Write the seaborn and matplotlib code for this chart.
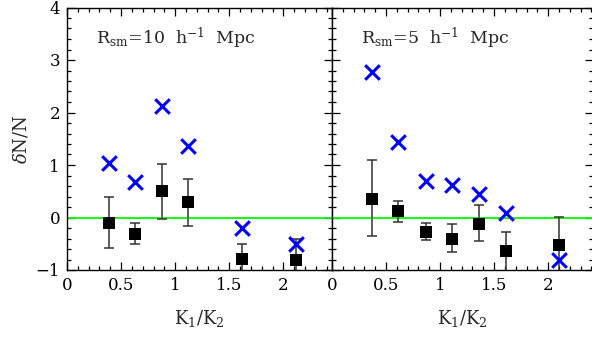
import matplotlib
matplotlib.use("Agg")
import matplotlib.pyplot as plt
import seaborn as sns
import pandas as pd
import numpy as np
from matplotlib.ticker import MultipleLocator, FuncFormatter

# ---- data ----
x_left = [0.39, 0.63, 0.88, 1.12, 1.62, 2.12]
cross_left = [1.04, 0.67, 2.12, 1.36, -0.20, -0.50]
sq_left = [-0.10, -0.31, 0.50, 0.30, -0.79, -0.81]
sq_left_hi = [0.39, -0.10, 1.01, 0.74, -0.50, -0.40]
sq_left_lo = [-0.58, -0.50, -0.02, -0.17, -1.08, -1.22]

x_right = [0.37, 0.61, 0.87, 1.11, 1.36, 1.61, 2.10]
cross_right = [2.77, 1.43, 0.69, 0.61, 0.45, 0.09, -0.81]
sq_right = [0.36, 0.12, -0.27, -0.40, -0.12, -0.64, -0.52]
sq_right_hi = [1.09, 0.31, -0.10, -0.13, 0.24, -0.27, 0.01]
sq_right_lo = [-0.36, -0.08, -0.42, -0.66, -0.45, -1.01, -1.05]

panel_labels = [r"R$_{\rm sm}$=10  h$^{-1}$  Mpc", r"R$_{\rm sm}$=5  h$^{-1}$  Mpc"]
xlabel = r"K$_1$/K$_2$"
ylabel = r"$\delta$N/N"

sns.set_theme(style="ticks")
plt.rcParams["font.family"] = ["DejaVu Serif"]
plt.rcParams["mathtext.fontset"] = "dejavuserif"
plt.rcParams["axes.unicode_minus"] = True

fig = plt.figure(figsize=(5.92, 3.39), dpi=100)
W, H = 592, 339
ax1 = fig.add_axes([67 / W, 1 - 270 / H, 265 / W, 262.5 / H])
ax2 = fig.add_axes([332 / W, 1 - 270 / H, 261 / W, 262.5 / H])

panels = [
    (ax1, x_left, cross_left, sq_left, sq_left_hi, sq_left_lo, panel_labels[0], 2.45),
    (ax2, x_right, cross_right, sq_right, sq_right_hi, sq_right_lo, panel_labels[1], 2.415),
]

fmt = FuncFormatter(lambda v, p: ("%g" % v).replace("-", "\u2212"))

for ax, xs, cr, sq, hi, lo, lab, xmax in panels:
    df = pd.DataFrame({"x": xs, "cross": cr, "sq": sq, "hi": hi, "lo": lo})
    ax.axhline(0, color="#00ff00", lw=1.3, zorder=1)
    ax.errorbar(df["x"], df["sq"], yerr=[df["sq"] - df["lo"], df["hi"] - df["sq"]],
                fmt="none", ecolor="#333333", elinewidth=1.1, capsize=3.5,
                capthick=1.1, zorder=2)
    sns.scatterplot(data=df, x="x", y="sq", ax=ax, marker="s", s=72,
                    color="black", edgecolor="black", linewidth=0, zorder=3)
    sns.scatterplot(data=df, x="x", y="cross", ax=ax, marker="x", s=110,
                    color="#0000ff", linewidth=2.2, zorder=4)
    ax.set_xlim(0, xmax)
    ax.set_ylim(-1, 4)
    ax.xaxis.set_major_locator(MultipleLocator(0.5))
    ax.xaxis.set_minor_locator(MultipleLocator(0.1))
    ax.yaxis.set_major_locator(MultipleLocator(1))
    ax.yaxis.set_minor_locator(MultipleLocator(0.2))
    ax.xaxis.set_major_formatter(fmt)
    ax.yaxis.set_major_formatter(fmt)
    ax.tick_params(which="both", direction="in", top=True, right=True,
                   colors="black", labelsize=12, width=0.9)
    ax.tick_params(which="major", length=6, pad=5)
    ax.tick_params(which="minor", length=3)
    for s in ax.spines.values():
        s.set_linewidth(1.0)
        s.set_color("black")
    ax.set_xlabel(xlabel, fontsize=13, labelpad=10)
    ax.set_ylabel("")
    ax.text(0.27, 3.42, lab, fontsize=12.5, ha="left", va="center")

ax1.set_ylabel(ylabel, fontsize=13, labelpad=4)
ax2.tick_params(axis="y", labelleft=False)

fig.savefig("out.png", dpi=100)
